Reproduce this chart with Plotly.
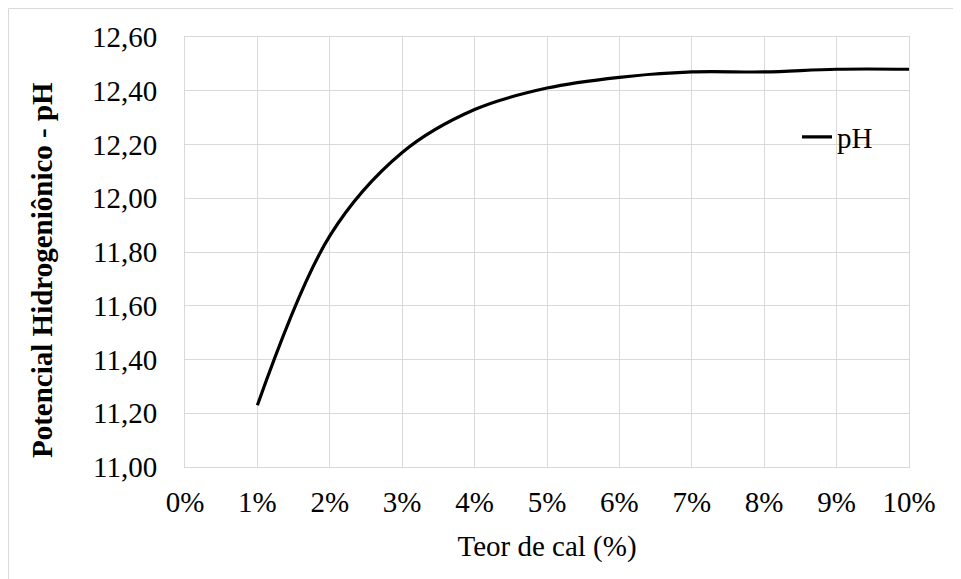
import plotly.graph_objects as go

teor = [0.01, 0.02, 0.03, 0.04, 0.05, 0.06, 0.07, 0.08, 0.09, 0.10]
ph = [11.23, 11.86, 12.17, 12.33, 12.41, 12.45, 12.47, 12.47, 12.48, 12.48]
x_ticks = [0.0, 0.01, 0.02, 0.03, 0.04, 0.05, 0.06, 0.07, 0.08, 0.09, 0.10]
x_ticklabels = ["0%", "1%", "2%", "3%", "4%", "5%", "6%", "7%", "8%", "9%", "10%"]
y_ticks = [11.0, 11.2, 11.4, 11.6, 11.8, 12.0, 12.2, 12.4, 12.6]
y_ticklabels = ["11,00", "11,20", "11,40", "11,60", "11,80", "12,00", "12,20", "12,40", "12,60"]

FONT = "Liberation Serif, Times New Roman, serif"
GRID = "#d9d9d9"

# page has an 8px body margin, so figure coordinates are screen - 8
OFF = 8
W, H = 961 - OFF, 579 - OFF
L, R, T, B = 185 - OFF, 52, 37 - OFF, 112
pw, ph_ = W - L - R, H - T - B

def px_x(p):
    return (p - OFF - L) / pw

def px_y(p):
    return (H - B - (p - OFF)) / ph_

fig = go.Figure()
fig.add_trace(go.Scatter(
    x=teor, y=ph, mode="lines", name="pH",
    line=dict(color="black", width=3.2, shape="spline", smoothing=1.0),
))

fig.update_layout(
    width=W, height=H,
    margin=dict(l=L, r=R, t=T, b=B),
    paper_bgcolor="white", plot_bgcolor="white",
    font=dict(family=FONT, size=29, color="black"),
    showlegend=True,
    legend=dict(
        x=px_x(797), y=px_y(137), xanchor="left", yanchor="middle",
        bgcolor="rgba(0,0,0,0)", borderwidth=0,
        font=dict(family=FONT, size=29, color="black"),
        itemwidth=30,
    ),
    xaxis=dict(
        range=[0, 0.10], tickmode="array", tickvals=x_ticks, ticktext=x_ticklabels,
        showgrid=True, gridcolor=GRID, gridwidth=1,
        showline=True, linecolor=GRID, linewidth=1, mirror=True,
        zeroline=False, ticks="", ticklabelstandoff=9,
        tickfont=dict(family=FONT, size=29),
        title=dict(text="Teor de cal (%)", font=dict(family=FONT, size=29), standoff=18),
    ),
    yaxis=dict(
        range=[11.0, 12.6], tickmode="array", tickvals=y_ticks, ticktext=y_ticklabels,
        showgrid=True, gridcolor=GRID, gridwidth=1,
        showline=True, linecolor=GRID, linewidth=1, mirror=True,
        zeroline=False, ticks="", ticklabelstandoff=21,
        tickfont=dict(family=FONT, size=29),
    ),
    shapes=[dict(
        type="rect", xref="paper", yref="paper",
        x0=px_x(OFF + 0.5), x1=px_x(975), y0=px_y(590), y1=px_y(OFF + 0.5),
        line=dict(color=GRID, width=1), fillcolor="rgba(0,0,0,0)", layer="below",
    )],
    annotations=[dict(
        text="<b>Potencial Hidrogeniônico - pH</b>", textangle=-90,
        xref="paper", yref="paper", x=px_x(42), y=px_y(270),
        xanchor="center", yanchor="middle", showarrow=False,
        font=dict(family=FONT, size=29, color="black"),
    )],
)

fig.write_html("out.html")
